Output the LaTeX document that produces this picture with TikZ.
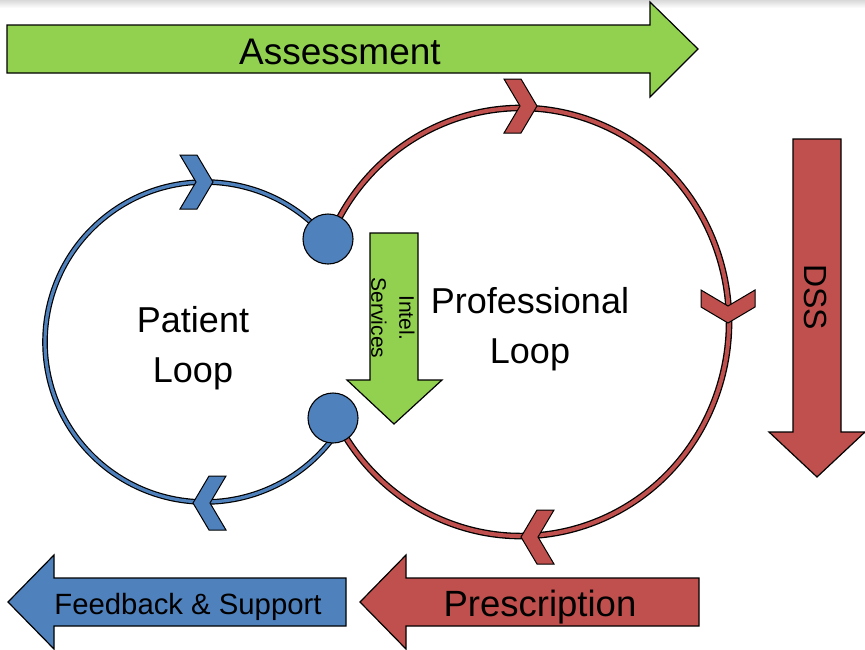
\documentclass[tikz,border=0pt]{standalone}
\usepackage{fontspec}
\setmainfont{Liberation Sans}
\definecolor{loopblue}{HTML}{4F81BD}
\definecolor{loopred}{HTML}{C0504D}
\definecolor{loopgreen}{HTML}{92D050}

\begin{document}
\begin{tikzpicture}[x=1pt,y=-1pt,
    bigarrow/.style={draw=black, line width=1.2pt},
    band/.style={draw=black, line width=1.2pt, double distance=3.2pt},
    hub/.style={circle, draw=black, line width=1.1pt, fill=loopblue, minimum size=50pt, inner sep=0pt},
    looptext/.style={font=\fontsize{36}{50}\selectfont, align=center},
    chev/.pic={\path[pic actions] (0,0) -- (-16,-27) -- (-33,-27) -- (-17,0) -- (-33,27) -- (-16,27) -- cycle;}]
                        \useasboundingbox (0,0) rectangle (865,649);
                        \fill[top color=black!15, bottom color=white] (0,0) rectangle (865,8);

                    % the two loops
                        \draw[band, double=loopblue] (205,342) ++(-42:160) arc[start angle=-42, end angle=-325, radius=160];
                        \draw[band, line width=1.3pt, double distance=4pt, double=loopred] (521,322) ++(-157:208 and 214) arc[start angle=-157, end angle=154, x radius=208, y radius=214];
                        \node (up) at (328,239) [hub] {};
                        \node (down) at (333,418) [hub] {};

                        \pic[draw=black, line width=1pt, fill=loopblue] at (213,182) {chev};
                        \pic[draw=black, line width=1pt, fill=loopblue, rotate=180] at (193,503) {chev};
                        \pic[draw=black, line width=1pt, fill=loopred] at (537,106) {chev};
                        \pic[draw=black, line width=1pt, fill=loopred, rotate=-90] at (728,323) {chev};
                        \pic[draw=black, line width=1pt, fill=loopred, rotate=180] at (521,537) {chev};

                        \node (patient) at (193,348) [looptext] {Patient\\Loop};
                        \node (prof) at (530,329) [looptext] {Professional\\Loop};

                    % block arrows
                        \draw[bigarrow, fill=loopgreen] (7,25) -- (650,25) -- (650,2) -- (698,49) -- (650,97) -- (650,73) -- (7,73) -- cycle;
                        \node (assess) at (340,64) [anchor=base, font=\fontsize{37}{44}\selectfont] {Assessment};

                        \draw[bigarrow, fill=loopred] (793,139) -- (841,139) -- (841,432) -- (865,432) -- (817,477) -- (769,432) -- (793,432) -- cycle;
                        \node (dss) at (816,297) [rotate=-90, font=\fontsize{32}{38}\selectfont] {DSS};

                        \draw[bigarrow, fill=loopgreen] (370,233) -- (418,233) -- (418,380) -- (442,380) -- (394,424) -- (347,380) -- (370,380) -- cycle;
                        \node (intel) at (393,318) [rotate=-90, align=center, font=\fontsize{21}{28}\selectfont] {Intel.\\Services};

                        \draw[bigarrow, fill=loopred] (699,578) -- (406,578) -- (406,555) -- (360,602) -- (406,649) -- (406,626) -- (699,626) -- cycle;
                        \node (presc) at (540,616) [anchor=base, font=\fontsize{36.5}{44}\selectfont] {Prescription};

                        \draw[bigarrow, fill=loopblue] (346,578) -- (54,578) -- (54,555) -- (8,602) -- (54,649) -- (54,626) -- (346,626) -- cycle;
                        \node (feed) at (188,614) [anchor=base, font=\fontsize{29.3}{35}\selectfont] {Feedback \& Support};

                    \end{tikzpicture}
\end{document}
